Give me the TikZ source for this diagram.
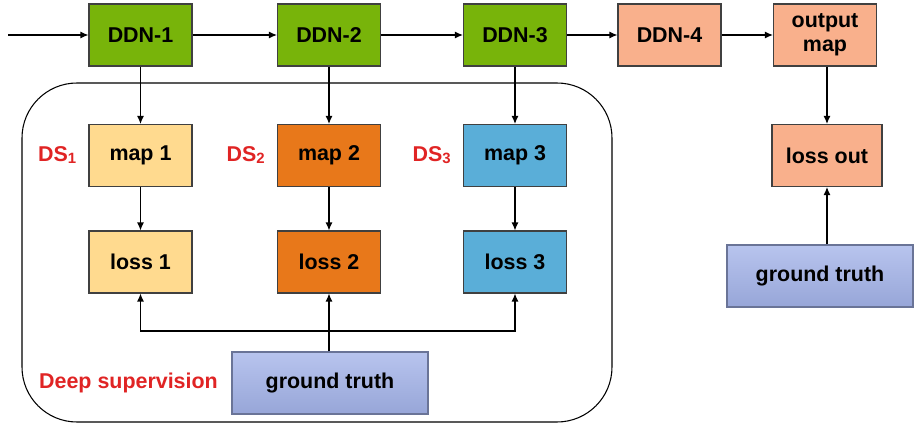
\documentclass[tikz,border=0pt]{standalone}
\usepackage{fontspec}
\setmainfont{Liberation Sans}
\usepackage{tikz}
\usetikzlibrary{arrows.meta,positioning,calc}
\definecolor{ddngreen}{HTML}{78B40A}
\definecolor{peach}{HTML}{F9B08C}
\definecolor{paleyellow}{HTML}{FFDA8F}
\definecolor{deeporange}{HTML}{E8781A}
\definecolor{skyblue}{HTML}{5AAED8}
\definecolor{dsred}{HTML}{E02424}
\definecolor{gttop}{HTML}{B8C4EE}
\definecolor{gtbot}{HTML}{97A6D8}
\tikzset{
  blk/.style={draw=black!75,line width=0.6pt,minimum width=2.06cm,minimum height=1.24cm,inner sep=1pt,align=center,font=\fontsize{12.2}{13.8}\selectfont\bfseries},
  gtbox/.style={blk,draw=gtbot!70!black,top color=gttop,bottom color=gtbot,minimum width=3.92cm},
  arr/.style={-{Latex[length=1.6mm,width=1.4mm]},line width=0.7pt},
  dslabel/.style={text=dsred,font=\fontsize{12.2}{13.8}\selectfont\bfseries}
}
\newcommand{\dsn}[1]{DS{\fontsize{8.5}{8.5}\selectfont\raisebox{-0.25ex}{#1}}}
\begin{document}
\begin{tikzpicture}[x=0.02cm,y=-0.02cm]
\useasboundingbox (0,0) rectangle (914,429);
\draw[line width=0.6pt,rounded corners=1.1cm] (22,83) rectangle (612,422);
\node[blk,fill=ddngreen] (ddn1) at (140.5,35) {DDN-1};
\node[blk,fill=ddngreen] (ddn2) at (329,35) {DDN-2};
\node[blk,fill=ddngreen] (ddn3) at (515,35) {DDN-3};
\node[blk,fill=peach] (ddn4) at (669.5,35) {DDN-4};
\node[blk,fill=peach] (out) at (825,35) {output\\map};
\node[blk,fill=paleyellow] (map1) at (140.5,155.5) {map 1};
\node[blk,fill=deeporange] (map2) at (329,155.5) {map 2};
\node[blk,fill=skyblue] (map3) at (515,155.5) {map 3};
\node[blk,fill=paleyellow] (loss1) at (140.5,262) {loss 1};
\node[blk,fill=deeporange] (loss2) at (329,262) {loss 2};
\node[blk,fill=skyblue] (loss3) at (515,262) {loss 3};
\node[blk,fill=peach,minimum width=2.2cm] (lossout) at (827,155.5) {loss out};
\node[gtbox] (gt) at (330,383) {ground truth};
\node[gtbox,minimum width=3.72cm] (gtout) at (820,276) {ground truth};
\node[dslabel,left=0.12cm of map1] (ds1) {\dsn{1}};
\node[dslabel,left=0.12cm of map2] (ds2) {\dsn{2}};
\node[dslabel,left=0.12cm of map3] (ds3) {\dsn{3}};
\node[dslabel] (deep) at (128.5,383) {Deep supervision};
\coordinate (in) at (8,35);
\coordinate (split) at (330,331);
\draw[arr] (in) -- (ddn1);
\draw[arr] (ddn1) -- (ddn2);
\draw[arr] (ddn2) -- (ddn3);
\draw[arr] (ddn3) -- (ddn4);
\draw[arr] (ddn4) -- (out);
\draw[arr] (ddn1) -- (map1);
\draw[arr] (ddn2) -- (map2);
\draw[arr] (ddn3) -- (map3);
\draw[arr] (map1) -- (loss1);
\draw[arr] (map2) -- (loss2);
\draw[arr] (map3) -- (loss3);
\draw[arr] (out.south -| lossout) -- (lossout);
\draw[arr] (gt.north -| loss2) -- (loss2);
\draw[arr] (split) -| (loss1);
\draw[arr] (split) -| (loss3);
\draw[arr] (gtout.north -| lossout) -- (lossout);
\end{tikzpicture}
\end{document}
